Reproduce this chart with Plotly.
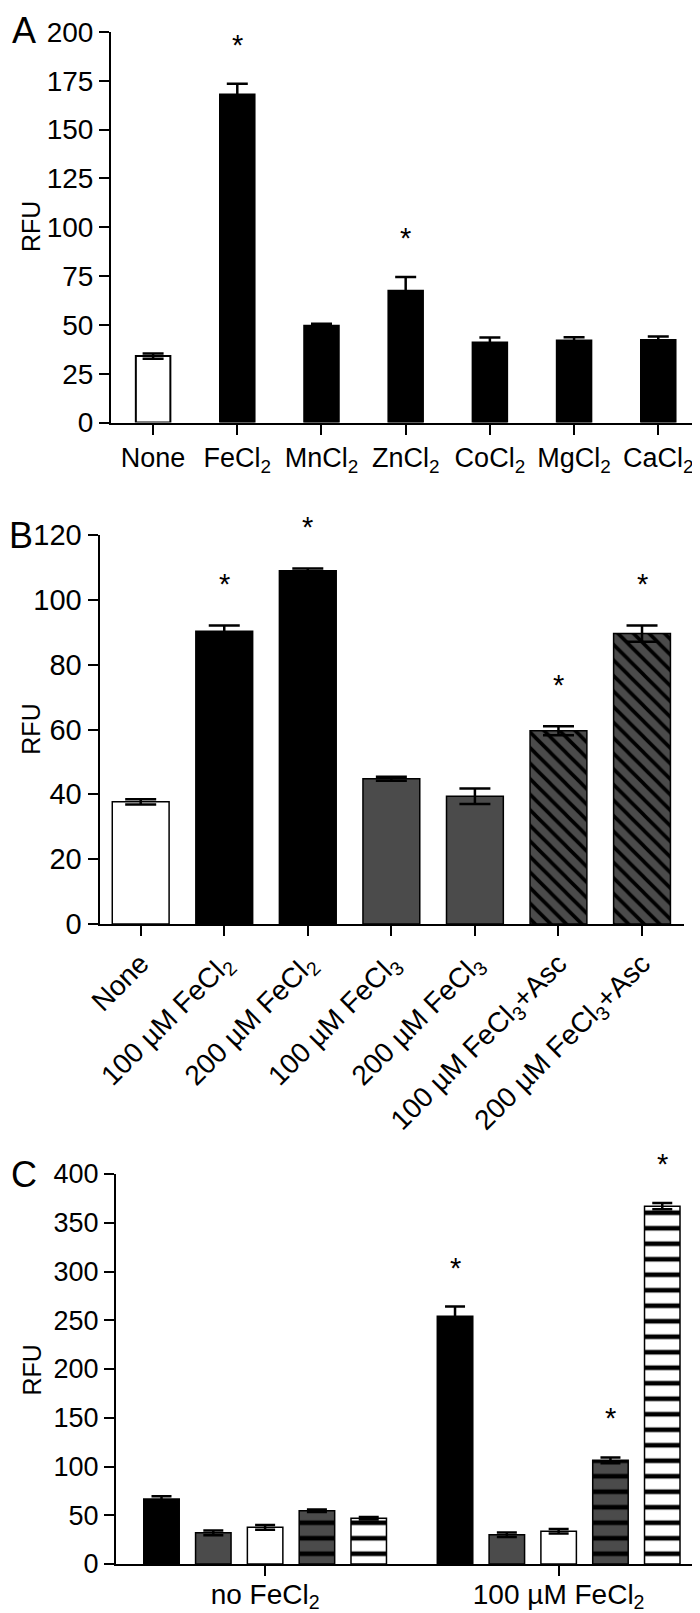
import plotly.graph_objects as go

# ---------------- data ----------------
a_cats = ["None", "FeCl<sub>2</sub>", "MnCl<sub>2</sub>", "ZnCl<sub>2</sub>",
          "CoCl<sub>2</sub>", "MgCl<sub>2</sub>", "CaCl<sub>2</sub>"]
a_vals = [34.0, 168.0, 49.5, 67.5, 41.0, 42.0, 42.3]
a_errs = [1.3, 5.5, 1.1, 7.0, 2.5, 1.7, 1.8]
a_sig = [False, True, False, True, False, False, False]

b_cats = ["None", "100 \u00b5M FeCl<sub>2</sub>", "200 \u00b5M FeCl<sub>2</sub>",
          "100 \u00b5M FeCl<sub>3</sub>", "200 \u00b5M FeCl<sub>3</sub>",
          "100 \u00b5M FeCl<sub>3</sub>+Asc", "200 \u00b5M FeCl<sub>3</sub>+Asc"]
b_vals = [37.7, 90.3, 109.0, 44.8, 39.4, 59.6, 89.6]
b_errs = [0.8, 1.8, 0.7, 0.6, 2.4, 1.4, 2.5]
b_sig = [False, True, True, False, False, True, True]

c_groups = ["no FeCl<sub>2</sub>", "100 \u00b5M FeCl<sub>2</sub>"]
c_vals = [[66.7, 254.0], [32.0, 30.0], [37.6, 33.5], [54.7, 106.3], [46.9, 367.0]]
c_errs = [[2.7, 10.0], [2.4, 2.3], [2.5, 2.3], [1.3, 3.0], [1.3, 3.2]]
c_sig = [[False, True], [False, False], [False, False], [False, True], [False, True]]

a_ticks = [0, 25, 50, 75, 100, 125, 150, 175, 200]
b_ticks = [0, 20, 40, 60, 80, 100, 120]
c_ticks = [0, 50, 100, 150, 200, 250, 300, 350, 400]

# ---------------- styles ----------------
W, H = 700, 1613
FONT = "Liberation Sans, Arial, Helvetica, sans-serif"
GRAY = "#4b4b4b"
a_colors = ["white"] + ["black"] * 6
b_colors = ["white", "black", "black", GRAY, GRAY, GRAY, GRAY]
b_hatched = [False, False, False, False, False, True, True]
c_styles = [
    dict(color="black", shape=""),
    dict(color=GRAY, shape=""),
    dict(color="white", shape=""),
    dict(color=GRAY, shape="-"),
    dict(color="white", shape="-"),
]

def px_x(x):
    return x / W

def px_y(y):
    return 1 - y / H

fig = go.Figure()

# Panel A
fig.add_trace(go.Bar(
    x=a_cats, y=a_vals, width=0.41, xaxis="x", yaxis="y",
    marker=dict(color=a_colors, line=dict(color="black", width=2)),
    error_y=dict(type="data", array=a_errs, color="black", thickness=2.5, width=10.5),
    showlegend=False))

# Panel B : plain bars, then hatched bars (same slot)
plain = [i for i, h in enumerate(b_hatched) if not h]
hatch = [i for i, h in enumerate(b_hatched) if h]
fig.add_trace(go.Bar(
    x=[b_cats[i] for i in plain], y=[b_vals[i] for i in plain], width=0.68,
    xaxis="x2", yaxis="y2", offsetgroup="b",
    marker=dict(color=[b_colors[i] for i in plain], line=dict(color="black", width=1.5)),
    error_y=dict(type="data", array=[b_errs[i] for i in plain], color="black",
                 thickness=2.5, width=15.5),
    showlegend=False))
fig.add_trace(go.Bar(
    x=[b_cats[i] for i in hatch], y=[b_vals[i] for i in hatch], width=0.68,
    xaxis="x2", yaxis="y2", offsetgroup="b",
    marker=dict(color=GRAY, line=dict(color="black", width=1.5),
                pattern=dict(shape="\\", fillmode="replace", fgcolor="black",
                             bgcolor=GRAY, fgopacity=1, size=11, solidity=0.33)),
    error_y=dict(type="data", array=[b_errs[i] for i in hatch], color="black",
                 thickness=2.5, width=15.5),
    showlegend=False))

# Panel C
for k, st in enumerate(c_styles):
    mk = dict(color=st["color"], line=dict(color="black", width=1.5))
    if st["shape"]:
        mk["pattern"] = dict(shape=st["shape"], fillmode="replace", fgcolor="black",
                             bgcolor=st["color"], fgopacity=1, size=15.5, solidity=0.3)
    fig.add_trace(go.Bar(
        x=c_groups, y=c_vals[k], xaxis="x3", yaxis="y3", marker=mk,
        error_y=dict(type="data", array=c_errs[k], color="black", thickness=2.5, width=10),
        showlegend=False))

BARGAP = 0.1175
annotations = []
star_font = dict(family=FONT, size=29, color="black")
STAR_SHIFT = 39
for i, s in enumerate(a_sig):
    if s:
        annotations.append(dict(x=i, y=a_vals[i] + a_errs[i], xref="x", yref="y", text="*",
                                showarrow=False, yanchor="middle", yshift=STAR_SHIFT, font=star_font))
for i, s in enumerate(b_sig):
    if s:
        annotations.append(dict(x=i, y=b_vals[i] + b_errs[i], xref="x2", yref="y2", text="*",
                                showarrow=False, yanchor="middle", yshift=STAR_SHIFT + 2, font=star_font))
n = len(c_vals)
slot = (1 - BARGAP) / n
for k in range(n):
    for g in range(len(c_groups)):
        if c_sig[k][g]:
            annotations.append(dict(x=g + (k - (n - 1) / 2) * slot, y=c_vals[k][g] + c_errs[k][g],
                                    xref="x3", yref="y3", text="*", showarrow=False,
                                    yanchor="middle", yshift=STAR_SHIFT, font=star_font))

for lab, (x, y) in zip(["A", "B", "C"], [(16, 22.5), (13, 527.5), (15.6, 1166.5)]):
    annotations.append(dict(x=px_x(x), y=px_y(y), xref="paper", yref="paper", text=lab,
                            showarrow=False, xanchor="center", yanchor="middle",
                            font=dict(family=FONT, size=36, color="black")))
for y in [219, 721.7, 1362.5]:
    annotations.append(dict(x=px_x(23), y=px_y(y), xref="paper", yref="paper", text="RFU",
                            textangle=-90, showarrow=False, xanchor="center", yanchor="middle",
                            font=dict(family=FONT, size=25, color="black")))

def xax(domain_px, rng, anchor, fs):
    return dict(domain=[px_x(domain_px[0]), px_x(domain_px[1])], range=rng, type="category",
                anchor=anchor, showline=True, linecolor="black", linewidth=2, automargin=False,
                ticks="outside", ticklen=10, tickwidth=2, tickcolor="black",
                showgrid=False, zeroline=False, tickfont=dict(family=FONT, size=fs, color="black"))

def yax(domain_px, rng, tv, anchor, fs):
    return dict(domain=[px_y(domain_px[1]), px_y(domain_px[0])], range=rng, tickvals=tv,
                anchor=anchor, showline=True, linecolor="black", linewidth=2, automargin=False,
                ticks="outside", ticklen=10, tickwidth=2, tickcolor="black",
                showgrid=False, zeroline=False, tickfont=dict(family=FONT, size=fs, color="black"))

fig.update_layout(
    template="none",
    width=W, height=H, margin=dict(l=0, r=0, t=0, b=0, pad=0),
    paper_bgcolor="white", plot_bgcolor="white",
    barmode="group", bargap=BARGAP, bargroupgap=0.315,
    font=dict(family=FONT, color="black"),
    xaxis=xax((103, 689), [-0.5, 6.46], "y", 27),
    yaxis=yax((24, 414.5), [0, 200], a_ticks, "x", 28),
    xaxis2=dict(xax((91.5, 676.3), [-0.493, 6.506], "y2", 28), tickangle=-45,
                categoryorder="array", categoryarray=b_cats),
    yaxis2=yax((527, 916), [0, 120], b_ticks, "x2", 29),
    xaxis3=dict(xax((108, 698), [-0.508, 1.502], "y3", 28), ticklabelstandoff=-6),
    yaxis3=yax((1166, 1556), [0, 400], c_ticks, "x3", 27),
    annotations=annotations,
)

fig.write_html("out.html")
